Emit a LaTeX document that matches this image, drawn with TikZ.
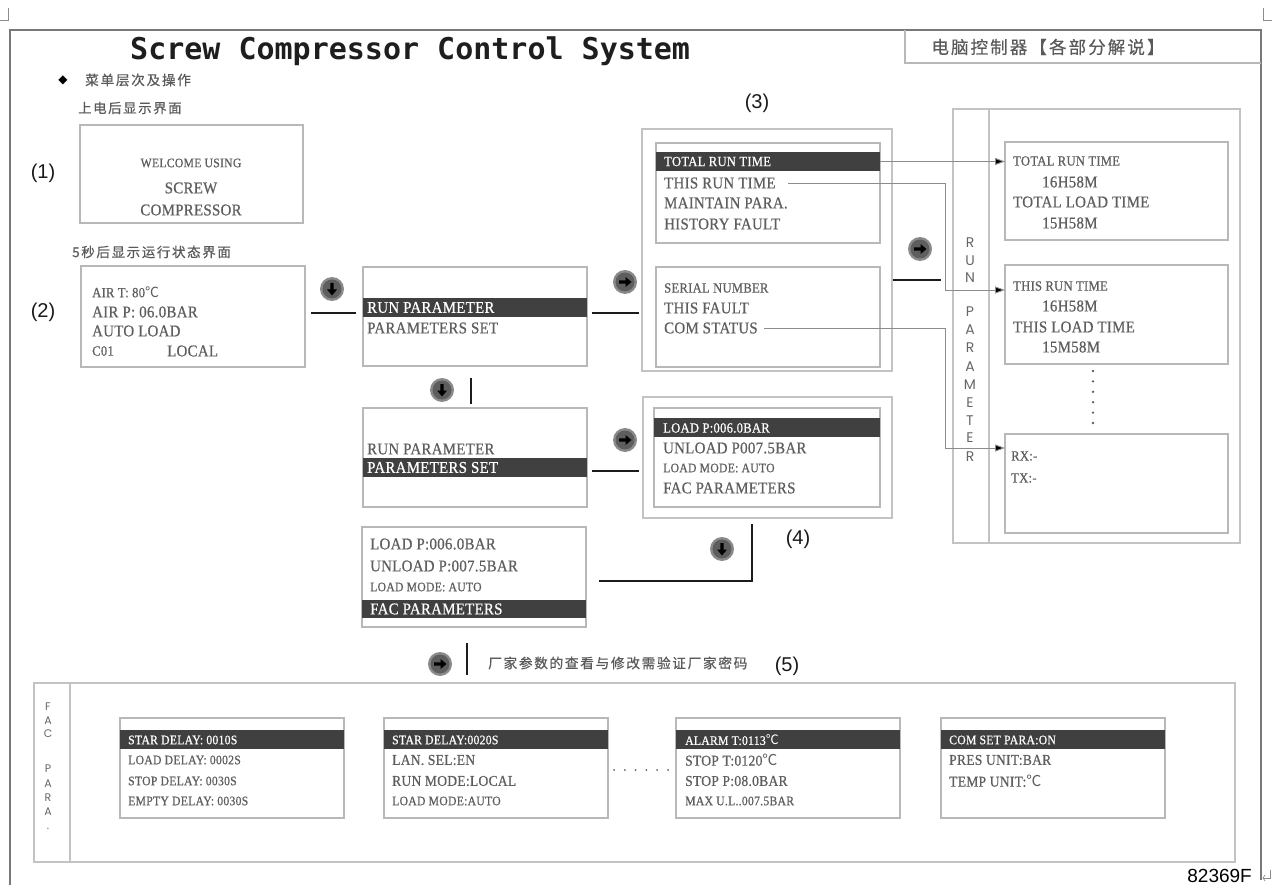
\documentclass[tikz,border=0pt]{standalone}
\usepackage{fontspec}
\setmainfont{Liberation Serif}
\newfontfamily\lcdf[FakeStretch=0.9,FakeBold=0.6,LetterSpace=2]{Liberation Serif}
\newfontfamily\cjk[LetterSpace=12,FakeBold=0.4]{Noto Sans CJK SC}
\newfontfamily\cjks{Noto Sans CJK SC}
\newfontfamily\ttlf{DejaVu Sans Mono}
\newfontfamily\labf{Liberation Sans}
\newfontfamily\geof{Poppins}
\newfontfamily\djvf{DejaVu Sans}
\usetikzlibrary{arrows.meta,calc,fit}
\definecolor{framec}{HTML}{787878}
\definecolor{boxc}{HTML}{B8B8B8}
\definecolor{barc}{HTML}{404040}
\definecolor{txtc}{HTML}{5E5E5E}
\definecolor{cjkc}{HTML}{5A5A5A}
\definecolor{ringc}{HTML}{8A8A8A}
\definecolor{btnc}{HTML}{5E5E5E}
\definecolor{connc}{HTML}{1C1C1C}
\definecolor{thinc}{HTML}{8C8C8C}
\definecolor{titlec}{HTML}{1E1E1E}
\newcommand\degc{{\cjks ℃}}
\tikzset{
  lcdbox/.style={draw=boxc, line width=1.4, inner sep=0},
  outbox/.style={draw=boxc!85, line width=1.2, inner sep=0},
  lbig/.style={anchor=west, inner sep=0, text=txtc, font=\lcdf\fontsize{16.5}{18}\selectfont},
  lsml/.style={anchor=west, inner sep=0, text=txtc, font=\lcdf\fontsize{14}{16}\selectfont},
  ltiny/.style={anchor=west, inner sep=0, text=txtc, font=\lcdf\fontsize{13}{15}\selectfont},
  lmid/.style={anchor=west, inner sep=0, text=txtc, font=\lcdf\fontsize{15}{17}\selectfont},
  inv/.style={text=white},
  cjktext/.style={anchor=west, inner sep=0, text=cjkc},
  numlab/.style={inner sep=0, text=black!90, font=\labf\fontsize{20}{22}\selectfont},
  vlet/.style={inner sep=0, text=black!60, font=\geof\fontsize{14}{16}\selectfont},
  vletsm/.style={inner sep=0, text=black!60, font=\geof\fontsize{11}{13}\selectfont},
  conn/.style={draw=connc, line width=2.6},
  thinconn/.style={draw=thinc, line width=0.9},
  tipconn/.style={thinconn, -{Triangle[length=10pt,width=7pt,fill=black]}},
  rbtn/.pic={
    \fill[ringc] (0,0) circle (12);
    \fill[btnc] (0,0) circle (9.5);
    \fill[black] (-6,-1.7) -- (0.5,-1.7) -- (0.5,-5) -- (6.5,0) -- (0.5,5) -- (0.5,1.7) -- (-6,1.7) -- cycle;
  },
  dbtn/.pic={
    \fill[ringc] (0,0) circle (12);
    \fill[btnc] (0,0) circle (9.5);
    \fill[black] (-1.7,-6) -- (-1.7,0.5) -- (-5,0.5) -- (0,6.5) -- (5,0.5) -- (1.7,0.5) -- (1.7,-6) -- cycle;
  }
}
\begin{document}
\begin{tikzpicture}[x=1pt,y=-1pt]
\useasboundingbox (0,0) rectangle (1272,885);
\fill[white] (0,0) rectangle (1272,885);

% corner marks
\draw[black!45, line width=0.8] (0,20) -- (8,20) -- (8,8);
\draw[black!45, line width=0.8] (1263,8) -- (1263,20) -- (1272,20);
\draw[black!45, line width=0.7] (1270,870) -- (1270,878) -- (1263,878);
\draw[black!45, line width=0.7] (1265,875) -- (1263,878) -- (1265,881);

% frame
\draw[framec, line width=1.5] (10,885) -- (10,30) -- (1261,30) -- (1261,880);
\draw[boxc, line width=1.3] (905,30) -- (905,63) -- (1261,63);
\node[cjktext, anchor=center, font=\cjk\fontsize{17.5}{19}\selectfont] (hdr) at (1048,47) {电脑控制器【各部分解说】};

% title
\node[anchor=base west, inner sep=0, text=titlec, font=\ttlf\bfseries\fontsize{30}{30}\selectfont] (title) at (130,60) {Screw Compressor Control System};

\node[inner sep=0, font=\djvf\fontsize{12}{13}\selectfont] (dia) at (63,80) {◆};
\node[cjktext, font=\cjk\fontsize{13.7}{15}\selectfont] (menu) at (85,80) {菜单层次及操作};
\node[cjktext, font=\cjk\fontsize{13.4}{15}\selectfont] (pwr) at (78,108) {上电后显示界面};
\node[cjktext, font=\cjk\fontsize{13.5}{15}\selectfont] (five) at (72,252) {5秒后显示运行状态界面};

% labels
\node[numlab] (l1) at (43,173) {(1)};
\node[numlab] (l2) at (43,312) {(2)};
\node[numlab] (l3) at (757,103) {(3)};
\node[numlab] (l4) at (798,539) {(4)};
\node[numlab] (l5) at (787,666) {(5)};

% (1) welcome
\node[lcdbox, fit={(80,125)(303,223)}] (wel) {};
\node[ltiny, anchor=center] (w1) at (191,163) {WELCOME USING};
\node[lbig, anchor=center] (w2) at (191,188) {SCREW};
\node[lbig, anchor=center] (w3) at (191,210) {COMPRESSOR};

% (2) status
\node[lcdbox, fit={(81,266)(305,367)}] (st) {};
\node[lsml] (s1) at (92,292) {AIR T: 80\degc};
\node[lbig] (s2) at (92,312) {AIR P: 06.0BAR};
\node[lbig] (s3) at (92,331) {AUTO LOAD};
\node[lsml] (s4) at (92,351) {C01};
\node[lbig] (s5) at (167,351) {LOCAL};

% menu 1
\node[lcdbox, fit={(363,267)(587,366)}] (rp1) {};
\fill[barc] (363,298) rectangle (587,317);
\node[lbig, inv] (rp1a) at (367,307.5) {RUN PARAMETER};
\node[lbig] (rp1b) at (367,328) {PARAMETERS SET};

% menu 2
\node[lcdbox, fit={(363,408)(587,507)}] (ps1) {};
\node[lbig] (ps1a) at (367,449) {RUN PARAMETER};
\fill[barc] (363,458) rectangle (587,477);
\node[lbig, inv] (ps1b) at (367,467.5) {PARAMETERS SET};

% FAC box
\node[lcdbox, fit={(362,527)(586,627)}] (fac) {};
\node[lbig] (fa1) at (370,544) {LOAD P:006.0BAR};
\node[lbig] (fa2) at (370,566) {UNLOAD P:007.5BAR};
\node[ltiny] (fa3) at (370,587) {LOAD MODE: AUTO};
\fill[barc] (362,600) rectangle (586,618);
\node[lbig, inv] (fa4) at (370,609) {FAC PARAMETERS};

% (3)
\node[outbox, fit={(642,129)(892,371)}] (g3) {};
\node[lcdbox, fit={(656,143)(880,243)}] (g3a) {};
\fill[barc] (656,152) rectangle (880,171);
\node[lsml, inv] (trt) at (664,161.5) {TOTAL RUN TIME};
\node[lbig] (thrt) at (664,183) {THIS RUN TIME};
\node[lbig] (mp) at (664,203) {MAINTAIN PARA.};
\node[lbig] (hf) at (664,224) {HISTORY FAULT};
\node[lcdbox, fit={(656,267)(880,367)}] (g3b) {};
\node[lsml] (sn) at (664,288) {SERIAL NUMBER};
\node[lbig] (tf) at (664,308) {THIS FAULT};
\node[lbig] (cs) at (664,328) {COM STATUS};

% (4)
\node[outbox, fit={(643,397)(892,518)}] (g4) {};
\node[lcdbox, fit={(654,408)(880,507)}] (g4a) {};
\fill[barc] (654,418) rectangle (880,437);
\node[lsml, inv] (g41) at (663,428) {LOAD P:006.0BAR};
\node[lbig] (g42) at (663,448) {UNLOAD P007.5BAR};
\node[ltiny] (g43) at (663,468) {LOAD MODE: AUTO};
\node[lbig] (g44) at (663,488) {FAC PARAMETERS};

% RUN PARAMETER panel
\node[outbox, fit={(953,109)(1240,543)}] (rpp) {};
\draw[boxc!85, line width=1.2] (989,109) -- (989,543);
\foreach \ch/\yy in {R/243,U/261,N/278,P/312,A/330,R/348,A/367,M/385,E/403,T/421,E/438,R/457}
  \node[vlet] (rv\yy) at (970,\yy) {\ch};
\node[lcdbox, fit={(1005,142)(1228,240)}] (rb1) {};
\node[lsml] (rb1a) at (1013,161) {TOTAL RUN TIME};
\node[lbig] (rb1b) at (1042,182) {16H58M};
\node[lbig] (rb1c) at (1013,202) {TOTAL LOAD TIME};
\node[lbig] (rb1d) at (1042,223) {15H58M};
\node[lcdbox, fit={(1005,265)(1228,364)}] (rb2) {};
\node[lsml] (rb2a) at (1013,286) {THIS RUN TIME};
\node[lbig] (rb2b) at (1042,306) {16H58M};
\node[lbig] (rb2c) at (1013,327) {THIS LOAD TIME};
\node[lbig] (rb2d) at (1042,347) {15M58M};
\foreach \i in {0,...,5} \fill[txtc] (1093,371+10.4*\i) circle (1.3);
\node[lcdbox, fit={(1005,434)(1228,533)}] (rb3) {};
\node[lsml] (rb3a) at (1011,456) {RX:-};
\node[lsml] (rb3b) at (1011,478) {TX:-};

% thin connectors
\coordinate (tip1) at (1005,161.5);
\coordinate (tip2) at (1005,290);
\coordinate (tip3) at (1005,448);
\coordinate (vx) at (945,0);
\draw[tipconn] (880,161.5) -- (tip1);
\draw[tipconn] ([xshift=12]thrt.east) -- (vx |- thrt.east) -- (vx |- tip2) -- (tip2);
\draw[tipconn] ([xshift=6]cs.east) -- (vx |- cs.east) -- (vx |- tip3) -- (tip3);

% thick connectors
\draw[conn] ([xshift=5,yshift=3.5]st.east) -- ([xshift=-6,yshift=3.5]rp1.west);
\draw[conn] ([xshift=4,yshift=3.5]rp1.east) -- ++(47,0);
\draw[conn] (g3.east |- 0,280) -- ++(48,0);
\draw[conn] (471,378) -- (471,404);
\draw[conn] ([xshift=4,yshift=-13.5]ps1.east) -- ++(47,0);
\draw[conn] (752,524) -- (752,581) -- (599,581);
\draw[conn] (467,643) -- (467,675);

% buttons
\pic (bt1) at (332,289) {dbtn};
\pic (bt2) at (625,282) {rbtn};
\pic (bt3) at (442,390) {dbtn};
\pic (bt4) at (625,440) {rbtn};
\pic (bt5) at (920,249) {rbtn};
\pic (bt6) at (722,549) {dbtn};
\pic (bt7) at (440,664) {rbtn};

\node[cjktext, font=\cjk\fontsize{13.7}{15}\selectfont] (note) at (488,663) {厂家参数的查看与修改需验证厂家密码};

% (5) FAC PARA panel
\node[outbox, fit={(34,683)(1235,862)}] (fpp) {};
\draw[boxc!85, line width=1.2] (70,683) -- (70,862);
\foreach \ch/\yy in {F/707,A/721,C/734,P/769,A/784,R/798,A/812}
  \node[vletsm] (fv\yy) at (48,\yy) {\ch};
\node[vletsm] (fvdot) at (48,829) {.};

\node[lcdbox, fit={(120,718)(344,818)}] (fb1) {};
\fill[barc] (120,730) rectangle (344,749);
\node[ltiny, inv] (fb1a) at (128,740) {STAR DELAY: 0010S};
\node[ltiny] (fb1b) at (128,760) {LOAD DELAY: 0002S};
\node[ltiny] (fb1c) at (128,781) {STOP DELAY: 0030S};
\node[ltiny] (fb1d) at (128,801) {EMPTY DELAY: 0030S};

\node[lcdbox, fit={(384,718)(608,818)}] (fb2) {};
\fill[barc] (384,730) rectangle (608,749);
\node[ltiny, inv] (fb2a) at (392,740) {STAR DELAY:0020S};
\node[lmid] (fb2b) at (392,760) {LAN. SEL:EN};
\node[lmid] (fb2c) at (392,781) {RUN MODE:LOCAL};
\node[ltiny] (fb2d) at (392,801) {LOAD MODE:AUTO};

\foreach \i in {0,...,5} \fill[txtc] (614+10.8*\i,770) circle (1);

\node[lcdbox, fit={(676,718)(900,818)}] (fb3) {};
\fill[barc] (676,730) rectangle (900,749);
\node[ltiny, inv] (fb3a) at (685,740) {ALARM T:0113\degc};
\node[lmid] (fb3b) at (685,760) {STOP T:0120\degc};
\node[lmid] (fb3c) at (685,781) {STOP P:08.0BAR};
\node[ltiny] (fb3d) at (685,801) {MAX U.L..007.5BAR};

\node[lcdbox, fit={(941,718)(1165,818)}] (fb4) {};
\fill[barc] (941,730) rectangle (1165,749);
\node[ltiny, inv] (fb4a) at (949,740) {COM SET PARA:ON};
\node[lmid] (fb4b) at (949,760) {PRES UNIT:BAR};
\node[lmid] (fb4c) at (949,781) {TEMP UNIT:\degc};

\node[anchor=base east, inner sep=0, font=\labf\fontsize{19}{20}\selectfont] (code) at (1252,882) {82369F};
\end{tikzpicture}
\end{document}
